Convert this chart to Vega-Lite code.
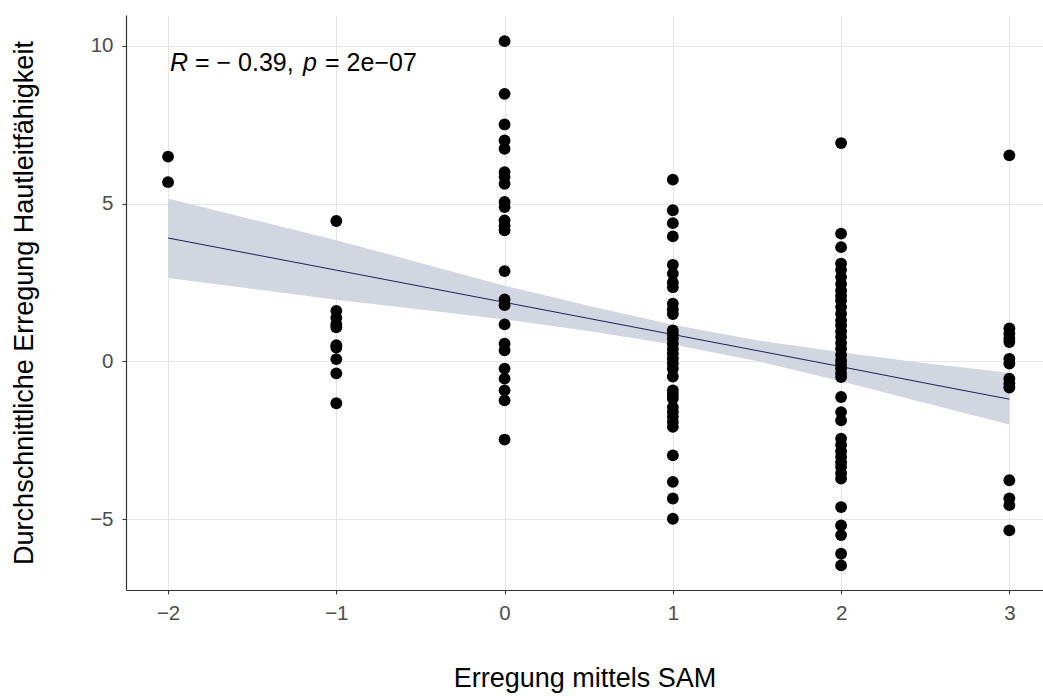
{
  "$schema": "https://vega.github.io/schema/vega-lite/v6.json",
  "width": 917,
  "height": 575,
  "autosize": {"type": "none"},
  "padding": {"left": 126, "top": 15, "right": 0, "bottom": 108},
  "background": "white",
  "config": {
    "view": {"stroke": null},
    "font": "Liberation Sans",
    "axis": {
      "grid": true,
      "gridColor": "#e6e6e6",
      "gridWidth": 1,
      "domainColor": "#333333",
      "domainWidth": 1.2,
      "tickColor": "#333333",
      "tickSize": 4,
      "labelColor": "#4d4d4d",
      "labelFontSize": 20.5,
      "labelFont": "Liberation Sans",
      "titleFont": "Liberation Sans",
      "titleFontSize": 27,
      "titleFontWeight": "normal",
      "titleColor": "#000000"
    }
  },
  "datasets": {
    "points": [
      {"x": -2, "y": 6.49}, {"x": -2, "y": 5.68},
      {"x": -1, "y": 4.45}, {"x": -1, "y": 1.6}, {"x": -1, "y": 1.38}, {"x": -1, "y": 1.18}, {"x": -1, "y": 1.08}, {"x": -1, "y": 0.51}, {"x": -1, "y": 0.44}, {"x": -1, "y": 0.07}, {"x": -1, "y": -0.38}, {"x": -1, "y": -1.33},
      {"x": 0, "y": 10.15}, {"x": 0, "y": 8.48}, {"x": 0, "y": 7.51}, {"x": 0, "y": 7.0}, {"x": 0, "y": 6.74}, {"x": 0, "y": 6.0}, {"x": 0, "y": 5.84}, {"x": 0, "y": 5.63}, {"x": 0, "y": 5.05}, {"x": 0, "y": 4.89}, {"x": 0, "y": 4.47}, {"x": 0, "y": 4.3}, {"x": 0, "y": 4.15}, {"x": 0, "y": 2.86}, {"x": 0, "y": 1.96}, {"x": 0, "y": 1.78}, {"x": 0, "y": 1.17}, {"x": 0, "y": 0.56}, {"x": 0, "y": 0.35}, {"x": 0, "y": -0.23}, {"x": 0, "y": -0.55}, {"x": 0, "y": -0.92}, {"x": 0, "y": -1.24}, {"x": 0, "y": -2.48},
      {"x": 1, "y": 5.76}, {"x": 1, "y": 4.79}, {"x": 1, "y": 4.38}, {"x": 1, "y": 3.96}, {"x": 1, "y": 3.06}, {"x": 1, "y": 2.78}, {"x": 1, "y": 2.5}, {"x": 1, "y": 2.35}, {"x": 1, "y": 1.83}, {"x": 1, "y": 1.65}, {"x": 1, "y": 1.5}, {"x": 1, "y": 0.98}, {"x": 1, "y": 0.85}, {"x": 1, "y": 0.72}, {"x": 1, "y": 0.56}, {"x": 1, "y": 0.4}, {"x": 1, "y": 0.24}, {"x": 1, "y": 0.08}, {"x": 1, "y": -0.07}, {"x": 1, "y": -0.23}, {"x": 1, "y": -0.48}, {"x": 1, "y": -0.92}, {"x": 1, "y": -1.05}, {"x": 1, "y": -1.18}, {"x": 1, "y": -1.45}, {"x": 1, "y": -1.6}, {"x": 1, "y": -1.76}, {"x": 1, "y": -1.92}, {"x": 1, "y": -2.08}, {"x": 1, "y": -2.98}, {"x": 1, "y": -3.82}, {"x": 1, "y": -4.35}, {"x": 1, "y": -4.99},
      {"x": 2, "y": 6.92}, {"x": 2, "y": 4.05}, {"x": 2, "y": 3.62}, {"x": 2, "y": 3.1}, {"x": 2, "y": 2.9}, {"x": 2, "y": 2.67}, {"x": 2, "y": 2.45}, {"x": 2, "y": 2.25}, {"x": 2, "y": 2.08}, {"x": 2, "y": 1.93}, {"x": 2, "y": 1.72}, {"x": 2, "y": 1.51}, {"x": 2, "y": 1.3}, {"x": 2, "y": 1.14}, {"x": 2, "y": 0.95}, {"x": 2, "y": 0.77}, {"x": 2, "y": 0.58}, {"x": 2, "y": 0.4}, {"x": 2, "y": 0.2}, {"x": 2, "y": 0.03}, {"x": 2, "y": -0.1}, {"x": 2, "y": -0.23}, {"x": 2, "y": -0.38}, {"x": 2, "y": -0.5}, {"x": 2, "y": -1.13}, {"x": 2, "y": -1.61}, {"x": 2, "y": -1.87}, {"x": 2, "y": -2.45}, {"x": 2, "y": -2.65}, {"x": 2, "y": -2.85}, {"x": 2, "y": -3.03}, {"x": 2, "y": -3.2}, {"x": 2, "y": -3.35}, {"x": 2, "y": -3.55}, {"x": 2, "y": -3.72}, {"x": 2, "y": -4.62}, {"x": 2, "y": -5.2}, {"x": 2, "y": -5.51}, {"x": 2, "y": -6.1}, {"x": 2, "y": -6.47},
      {"x": 3, "y": 6.53}, {"x": 3, "y": 1.04}, {"x": 3, "y": 0.88}, {"x": 3, "y": 0.72}, {"x": 3, "y": 0.61}, {"x": 3, "y": 0.08}, {"x": 3, "y": -0.07}, {"x": 3, "y": -0.55}, {"x": 3, "y": -0.7}, {"x": 3, "y": -0.83}, {"x": 3, "y": -3.77}, {"x": 3, "y": -4.35}, {"x": 3, "y": -4.56}, {"x": 3, "y": -5.36}
    ],
    "band": [
      {"x": -2, "fit": 3.91, "lo": 2.64, "hi": 5.16},
      {"x": -1.5, "fit": 3.4, "lo": 2.3, "hi": 4.5},
      {"x": -1, "fit": 2.89, "lo": 1.95, "hi": 3.84},
      {"x": -0.5, "fit": 2.38, "lo": 1.64, "hi": 3.12},
      {"x": 0, "fit": 1.87, "lo": 1.33, "hi": 2.4},
      {"x": 0.5, "fit": 1.36, "lo": 0.96, "hi": 1.76},
      {"x": 1, "fit": 0.85, "lo": 0.53, "hi": 1.16},
      {"x": 1.5, "fit": 0.34, "lo": 0.01, "hi": 0.67},
      {"x": 2, "fit": -0.17, "lo": -0.63, "hi": 0.29},
      {"x": 2.5, "fit": -0.69, "lo": -1.32, "hi": -0.06},
      {"x": 3, "fit": -1.2, "lo": -2.0, "hi": -0.36}
    ],
    "label": [
      {"x": -1.989, "y": 9.46, "t": "R", "s": "italic"},
      {"x": -1.84, "y": 9.46, "t": "= − 0.39,", "s": "normal"},
      {"x": -1.198, "y": 9.46, "t": "p", "s": "italic"},
      {"x": -1.067, "y": 9.46, "t": "= 2e−07", "s": "normal"}
    ]
  },
  "layer": [
    {
      "data": {"name": "band"},
      "mark": {"type": "area", "color": "#cfd4de", "opacity": 0.95, "clip": true},
      "encoding": {
        "x": {"field": "x", "type": "quantitative", "scale": {"domain": [-2.25, 3.2], "nice": false, "zero": false},
          "axis": {"values": [-2, -1, 0, 1, 2, 3], "title": "Erregung mittels SAM", "labelPadding": 9, "titlePadding": 42, "format": "d"}},
        "y": {"field": "lo", "type": "quantitative", "scale": {"domain": [-7.25, 10.98], "nice": false, "zero": false},
          "axis": {"values": [-5, 0, 5, 10], "title": "Durchschnittliche Erregung Hautleitfähigkeit", "labelPadding": 9, "titlePadding": 51, "format": "d"}},
        "y2": {"field": "hi"}
      }
    },
    {
      "data": {"name": "band"},
      "mark": {"type": "line", "color": "#1f1f5e", "strokeWidth": 1, "clip": true},
      "encoding": {
        "x": {"field": "x", "type": "quantitative"},
        "y": {"field": "fit", "type": "quantitative"}
      }
    },
    {
      "data": {"name": "points"},
      "mark": {"type": "circle", "color": "#000000", "opacity": 1, "size": 140, "clip": true},
      "encoding": {
        "x": {"field": "x", "type": "quantitative"},
        "y": {"field": "y", "type": "quantitative"}
      }
    },
    {
      "data": {"name": "label"},
      "transform": [{"filter": "datum.s === 'italic'"}],
      "mark": {"type": "text", "align": "left", "baseline": "middle", "fontSize": 25, "fontStyle": "italic", "color": "#000000", "font": "Liberation Sans"},
      "encoding": {
        "x": {"field": "x", "type": "quantitative"},
        "y": {"field": "y", "type": "quantitative"},
        "text": {"field": "t"}
      }
    },
    {
      "data": {"name": "label"},
      "transform": [{"filter": "datum.s === 'normal'"}],
      "mark": {"type": "text", "align": "left", "baseline": "middle", "fontSize": 25, "color": "#000000", "font": "Liberation Sans"},
      "encoding": {
        "x": {"field": "x", "type": "quantitative"},
        "y": {"field": "y", "type": "quantitative"},
        "text": {"field": "t"}
      }
    }
  ]
}
